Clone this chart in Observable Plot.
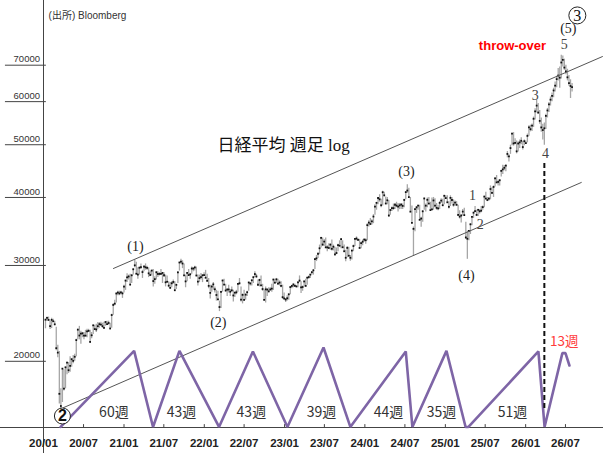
<!DOCTYPE html>
<html><head><meta charset="utf-8">
<script src="https://cdn.jsdelivr.net/npm/d3@7"></script>
<script src="https://cdn.jsdelivr.net/npm/@observablehq/plot@0.6"></script>
<style>body{margin:0;background:#fff}</style>
</head><body><div id="chart"></div>
<script>
// weekly closes / highs / lows (week ending Fridays, first week ends 2020-01-10)
const close2020=[23850,24041,23827,23205,23828,23688,23387,21143,20750,17431,16553,19389,17820,19499,19897,19262,19619,20179,20037,20388,21878,22863,22305,22478,22512,22306,22290,22696,22751,21710,22329,23289,22920,22882,23205,23406,23360,23204,23029,23619,23410,23516,22977,24325,25385,25527,26644,26751,26652,26763,26656,27444];
const high2020=[23900,24116,24115,23700,23995,23900,23700,23100,21400,20850,17800,19400,19300,19500,19922,19900,20400,20200,20500,20600,21950,22925,23185,22700,22600,22600,22800,22900,22900,22800,22600,23300,23300,23400,23580,23560,23600,23500,23600,23650,23700,23700,23500,24400,25520,25900,26700,26900,26900,26900,26800,27600];
const low2020=[22950,23700,23700,22890,22970,23600,23250,20916,20300,16690,16358,16800,17646,17800,18900,19000,19100,19500,19800,20000,20400,21900,21900,21500,22100,21900,22200,22100,22600,21600,22000,22400,22800,22600,22900,23000,23300,23000,22900,23200,23300,23300,22950,23000,24300,25300,25600,26400,26400,26500,26100,26700];
const close2021=[28139,28519,28631,27663,28779,29520,30018,28966,28864,29717,29792,29176,29854,29768,29683,29020,28812,29357,28084,28317,29149,28941,28948,28964,29066,28783,27940,28003,27548,27283,27820,27977,27013,27641,29128,30381,30500,30248,28771,28048,29068,28804,28892,29611,29609,29745,28751,28029,28437,28545,28782,28791];
const high2021=[28200,28979,28800,28900,28800,29600,30714,30400,29700,29800,30200,29400,30000,30200,29900,29700,29300,29400,29500,28600,29200,29200,29100,29500,29100,29100,28800,28700,28000,27900,28000,28200,28000,27700,29200,30400,30795,30600,30200,28800,29100,29500,29000,29800,29700,29900,29800,28800,28800,29000,28800,29100];
const low2021=[27000,27900,28200,27600,27800,28800,29700,28900,28300,28800,29500,28400,29200,29400,29400,28500,28700,28700,27400,27700,28200,28500,28700,28800,27800,28500,27400,27900,27300,27200,27300,27700,26954,27100,27800,29300,30200,29600,28700,27300,28000,28700,28300,28900,29200,29300,28600,27500,27900,28200,27900,28700];
const close2022=[28478,28124,27522,26717,27439,27696,27122,26476,25985,25162,26827,28149,27666,26985,27093,27105,26847,27003,26427,26739,26781,27761,27824,25963,26491,25935,26517,26788,27914,27801,28175,28546,28930,28641,27650,28214,27567,27153,25937,27116,27090,26890,27105,27199,28263,27899,28283,27777,27901,27527,26235,26094];
const high2022=[29388,28900,28400,27600,27600,27900,27400,27000,26900,25800,26900,28200,28300,27700,27200,27600,27100,27400,27000,26800,27000,27800,28389,27400,26600,27000,26600,26900,27950,27900,28200,28600,29222,28900,28200,28300,28700,27700,27000,27400,27200,27300,27300,27700,28300,28300,28400,28300,28100,28000,27600,26700];
const low2022=[28400,27900,27200,26044,26800,27000,26700,25800,25900,24681,25000,26800,27600,26800,26300,26700,26300,26800,25700,26200,26500,26800,27600,25700,25500,25800,25900,26300,26900,27500,27500,27800,28500,28400,27600,27400,27500,26900,25900,25600,26300,26700,26900,26800,27000,27700,27800,27600,27500,27300,26000,25900];
const close2023=[25973,26119,26553,27382,27509,27670,27513,27453,27927,28143,27333,27385,28041,27518,28493,28564,28856,29157,29388,30808,30916,31524,32265,33706,32781,33189,32388,32391,32304,32759,32193,32473,31451,31624,32710,32606,33533,32402,31857,30994,32315,31259,30991,31950,32568,33585,33625,33431,32307,32970,33169,33464];
const high2023=[26100,26400,26600,27400,27600,27800,27700,27500,28000,28700,28000,27500,28100,28300,28500,28700,28900,29200,29500,30900,31300,31600,32700,33800,33700,33500,33700,32600,32900,32900,33400,32700,32400,32300,32800,33300,33600,33300,32700,32000,32500,32400,31300,32000,32700,33600,33853,33600,33500,33100,33400,33600];
const low2023=[25661,25800,25900,26500,27200,27300,27400,27300,27300,27900,26632,26900,27400,27400,27600,28300,28400,28800,28800,29500,30500,30900,31400,32300,32500,32500,32300,31800,32200,32000,31900,31900,31200,31400,31800,32500,32200,32300,31700,30487,31000,31200,30550,30700,31800,32500,33300,33200,32200,32200,32600,33100];
const close2024=[33377,35577,35963,35751,36158,36897,38487,39098,39910,39688,38707,40888,40369,38992,39523,37068,37934,38236,38229,38787,38646,38487,38683,38814,38596,39583,40912,41190,40063,37667,35909,35025,38062,38364,38647,36391,36581,37723,39829,38635,39605,38981,37913,38053,39500,38642,38283,38208,39091,39470,38701,40281];
const high2024=[33600,35800,36239,36600,36400,37200,38800,39200,39990,40472,39700,41087,40900,40100,40000,39500,38000,38400,38900,39000,39200,39000,39000,39000,38900,39700,41000,42224,41600,40000,38600,35300,38100,38500,38700,38700,36800,37800,39900,38900,39900,40000,39200,39900,40000,39800,39000,38700,39300,39800,39700,40398];
const low2024=[32800,33300,35300,35700,35600,35800,37100,37900,38800,39200,38300,38600,40100,38800,38800,36733,37100,37700,37900,38000,38300,37600,38000,38000,38000,38300,39600,40700,40000,37600,35900,31156,34600,37400,37900,36300,35250,36000,37900,37600,38300,38900,37800,37900,37900,38300,37900,37800,38000,39000,38600,38800];
const close2025=[39895,39190,38451,39931,39572,38787,39149,38776,37155,36887,37053,37677,37120,33780,33586,34730,35705,36831,37503,37753,37160,37965,37741,37834,38403,40150,39811,39570,39819,41456,40799,41820,43378,42633,42718,43018,44768,45045,45355,45769,48088,47582,49299,52411,50276,50376,48625,50253,50491,50836,49507,50750];
const high2025=[40300,40300,39300,40280,40000,39600,39400,39300,38700,37800,37200,38000,38200,36000,34700,34800,35800,36900,37600,38500,37900,38000,38000,38500,38600,40200,40900,40000,40000,42000,41700,42000,43500,43900,43000,43100,44900,45852,45800,45900,48580,47900,49900,52500,52636,51300,50800,50600,51000,51500,50700,51000];
const low2025=[39800,39000,38100,38500,38900,38400,38600,38600,36900,36500,35900,37000,36900,33500,30792,33300,34200,35500,36600,37500,36900,36900,37300,37500,37900,38300,39700,39300,39400,39600,40500,40000,41800,42500,42000,42000,43600,44100,44800,44600,47300,46500,48000,49800,49700,50000,48100,48500,49200,50000,48900,49800];
const close2026=[50339,51900,53800,53400,54200,55800,57600,59000,57300,55300,53800,53200,53600,56500,57800,59300,60500,61500,62900,64200,66000,67000,66400,70800,71600,69300,68200,66500,64900,64100,63800];
const high2026=[50800,52300,54200,54300,54600,56200,58200,60300,59500,57800,56000,54500,54800,56900,58300,59800,61200,62200,63500,65200,66800,69000,69500,73000,72800,71800,70000,68800,67000,65800,64800];
const low2026=[50200,50400,51800,52800,52900,53800,55500,57200,56800,54500,52700,51000,49900,53300,56000,57300,58900,60000,61000,62500,63600,65500,63500,66000,69500,68500,67200,65500,64000,60800,62500];

const yTicks=[20000,30000,40000,50000,60000,70000];
const xTickLabels=["2020-01-01","2020-07-01","2021-01-01","2021-07-01","2022-01-01","2022-07-01","2023-01-01","2023-07-01","2024-01-01","2024-07-01","2025-01-01","2025-07-01","2026-01-01","2026-07-01"];

// channel lines (date, price)
const upperDates=["2020-11-14","2026-12-16"], upperVals=[29620,72600];
const lowerDates=["2020-04-01","2026-09-11"], lowerVals=[16440,42620];

// cycle zigzag
const zigDates=["2020-03-19","2021-02-16","2021-05-13","2021-09-10","2022-03-09","2022-08-10","2023-01-14","2023-06-27","2023-10-27","2024-07-05","2024-08-04","2025-01-06","2025-04-03","2025-04-16","2026-02-28","2026-03-28","2026-06-17","2026-07-01","2026-07-19"];
const zigVals=[15150,20900,15150,20900,15150,20850,15150,21200,15150,20850,15150,20900,15150,15150,20850,15150,20700,20700,19650];

const cycleText=["60週","43週","43週","39週","44週","35週","51週"];
const cycleDates=["2020-11-16","2021-09-19","2022-08-03","2023-06-18","2024-04-17","2024-12-14","2025-11-02"];

const waveText=["(1)","(2)","(3)","(4)","(5)"];
const waveDates=["2021-02-22","2022-03-06","2024-07-08","2025-04-07","2026-07-14"];
const waveVals=[32500,23550,44600,28800,81800];
const subText=["1","2","3","4","5"];
const subDates=["2025-05-04","2025-06-09","2026-02-14","2026-04-01","2026-06-26"];
const subVals=[40400,35600,61600,48200,76500];

const D=s=>new Date(s);
const weekCloses=[...close2020,...close2021,...close2022,...close2023,...close2024,...close2025,...close2026];
const weekHighs=[...high2020,...high2021,...high2022,...high2023,...high2024,...high2025,...high2026];
const weekLows=[...low2020,...low2021,...low2022,...low2023,...low2024,...low2025,...low2026];
const t0=Date.UTC(2020,0,10);
const bars=weekCloses.map((c,i)=>({date:new Date(t0+i*7*864e5),close:c,high:weekHighs[i],low:weekLows[i]}));
const upper=upperDates.map((d,i)=>({date:D(d),v:upperVals[i]}));
const lower=lowerDates.map((d,i)=>({date:D(d),v:lowerVals[i]}));
const zig=zigDates.map((d,i)=>({date:D(d),v:zigVals[i]}));
const cycles=cycleText.map((t,i)=>({t,date:D(cycleDates[i]),v:16110}));
const waves=waveText.map((t,i)=>({t,date:D(waveDates[i]),v:waveVals[i]}));
const subs=subText.map((t,i)=>({t,date:D(subDates[i]),v:subVals[i]}));
const xt=xTickLabels.map(D);

const serif="'Liberation Serif','DejaVu Serif',serif";
const sans="'Liberation Sans','Noto Sans CJK JP',sans-serif";
const cjk="'Noto Sans CJK JP','Liberation Sans',sans-serif";

const chart=Plot.plot({
  width:604,height:454,
  style:{background:"#fff"},
  x:{type:"utc",domain:[D("2020-01-01"),D("2026-09-01")],range:[43,578.6],axis:null},
  y:{type:"log",domain:[15115,89350],range:[427,7],axis:null},
  marks:[
    // y tick lines and labels
    Plot.ruleY(yTicks,{y:d=>d,x1:()=>D("2019-07-12"),x2:()=>D("2020-01-14"),stroke:"#444",strokeWidth:1}),
    Plot.text(yTicks,{y:d=>d,x:()=>D("2019-12-16"),dy:-6,text:d=>String(d),textAnchor:"end",fontSize:9.5,fill:"#333",fontFamily:sans}),
    // axes lines
    Plot.ruleX([D("2020-01-01")],{stroke:"#444",strokeWidth:1}),
    Plot.ruleY([15115],{stroke:"#444",strokeWidth:1}),
    Plot.ruleX(xt,{x:d=>d,y1:()=>15115,y2:()=>15300,stroke:"#444"}),
    Plot.text(xt,{x:d=>d,y:()=>15115,dy:16,text:d3.utcFormat("%y/%m"),fontSize:11.5,fontWeight:"bold",fill:"#222",fontFamily:sans}),
    // price bars
    Plot.ruleX(bars,{x:"date",y1:"low",y2:"high",stroke:"#a6a6a6",strokeWidth:1.3}),
    Plot.dot(bars,{x:"date",y:"close",r:1,symbol:"square",fill:"#111",stroke:null}),
    // channel
    Plot.line(upper,{x:"date",y:"v",stroke:"#555",strokeWidth:1}),
    Plot.line(lower,{x:"date",y:"v",stroke:"#555",strokeWidth:1}),
    // zigzag cycles
    Plot.line(zig,{x:"date",y:"v",stroke:"#7e65a6",strokeWidth:2.6,strokeLinejoin:"miter"}),
    Plot.text(cycles,{x:"date",y:"v",text:"t",fontSize:14,fill:"#333",fontFamily:cjk}),
    Plot.text([{t:"13週"}],{x:()=>D("2026-06-26"),y:()=>21760,text:"t",fontSize:13.5,fill:"#ff3b3b",fontFamily:cjk}),
    // dashed line
    Plot.ruleX([D("2026-03-27")],{x:d=>d,y1:()=>46200,y2:()=>16240,stroke:"#111",strokeWidth:2,strokeDasharray:"5,3"}),
    // wave labels
    Plot.text(waves,{x:"date",y:"v",text:"t",fontSize:14,fill:"#222",fontFamily:serif}),
    Plot.text(subs,{x:"date",y:"v",text:"t",fontSize:14,fill:"#444",fontFamily:serif}),
    // circled labels
    Plot.dot([0],{x:()=>D("2020-03-27"),y:()=>15870,r:8,fill:"#fff",stroke:"#222",strokeWidth:1}),
    Plot.text([0],{x:()=>D("2020-03-27"),y:()=>15870,text:()=>"2",fontSize:16,fontWeight:"600",fill:"#111",fontFamily:sans}),
    Plot.dot([0],{x:()=>D("2026-08-24"),y:()=>86400,r:8.5,fill:"#fff",stroke:"#222",strokeWidth:1}),
    Plot.text([0],{x:()=>D("2026-08-24"),y:()=>86400,text:()=>"3",fontSize:16,fill:"#111",fontFamily:serif}),
    // texts
    Plot.text([0],{x:()=>D("2025-11-02"),y:()=>76000,text:()=>"throw-over",fontSize:13,fontWeight:"bold",fill:"#ff0000",fontFamily:sans}),
    Plot.text([0],{x:()=>D("2022-03-02"),y:()=>49900,text:()=>"日経平均 週足 log",textAnchor:"start",fontSize:17,fill:"#111",fontFamily:serif.replace("serif","'Noto Sans CJK JP',serif")}),
    Plot.text([0],{x:()=>D("2020-01-24"),y:()=>86400,text:()=>"(出所) Bloomberg",textAnchor:"start",fontSize:10,fill:"#333",fontFamily:sans})
  ]
});
document.getElementById("chart").appendChild(chart);
</script>
</body></html>
